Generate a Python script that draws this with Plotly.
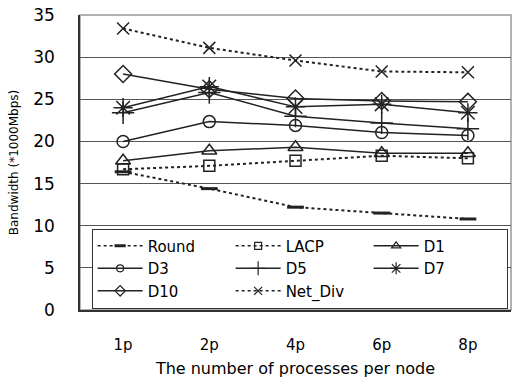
import plotly.graph_objects as go

categories = ["1p", "2p", "4p", "6p", "8p"]
round_v = [16.4, 14.4, 12.2, 11.5, 10.8]
lacp_v = [16.7, 17.1, 17.7, 18.3, 18.0]
d1_v = [17.7, 18.9, 19.3, 18.6, 18.6]
d3_v = [20.0, 22.35, 21.9, 21.05, 20.7]
d5_v = [23.4, 25.8, 23.0, 22.2, 21.5]
d7_v = [24.0, 26.5, 24.1, 24.4, 23.4]
d10_v = [28.0, 26.2, 25.1, 24.8, 24.7]
netdiv_v = [33.4, 31.1, 29.6, 28.3, 28.2]

FONT = "DejaVu Sans"
C = "#222222"

series = [
    ("Round", round_v, "dot", "line-ew-open", 12, 3, 8),
    ("LACP", lacp_v, "dot", "square-open", 11, 1.5, 7),
    ("D1", d1_v, "solid", "triangle-up-open", 13, 1.5, 8),
    ("D3", d3_v, "solid", "circle-open", 12, 1.5, 7),
    ("D5", d5_v, "solid", "cross-thin-open", 16, 1.5, 10),
    ("D7", d7_v, "solid", "asterisk-open", 16, 1.5, 10),
    ("D10", d10_v, "solid", "diamond-open", 13, 1.5, 8),
    ("Net_Div", netdiv_v, "dot", "x-thin-open", 12, 1.5, 8),
]

fig = go.Figure()
for name, vals, dash, sym, size, mlw, lsize in series:
    lw = 1.5 if dash == "solid" else 2
    fig.add_trace(go.Scatter(
        x=categories, y=vals, name=name, mode="lines+markers", showlegend=False,
        line=dict(color=C, width=lw, dash=dash),
        marker=dict(symbol=sym, size=size, color=C, line=dict(color=C, width=mlw)),
    ))
for name, vals, dash, sym, size, mlw, lsize in series:
    lw = 1.5 if dash == "solid" else 2
    fig.add_trace(go.Scatter(
        x=[None], y=[None], name=name, mode="lines+markers", showlegend=True,
        line=dict(color=C, width=lw if dash == "solid" else 1.5, dash=dash),
        marker=dict(symbol=sym, size=lsize, color=C, line=dict(color=C, width=mlw if mlw > 2 else 1.2)),
    ))

fig.update_layout(
    width=512, height=378,
    margin=dict(l=80, r=1, t=15, b=66),
    paper_bgcolor="white", plot_bgcolor="white",
    font=dict(family=FONT, color="black", size=14),
    showlegend=True,
    legend=dict(
        orientation="h", x=0.027, y=0.276, xanchor="left", yanchor="top",
        entrywidth=78, entrywidthmode="pixels",
        bgcolor="white", bordercolor="#333", borderwidth=1,
        font=dict(family=FONT, size=15, color="black"),
        itemwidth=45, tracegroupgap=0,
    ),
    xaxis=dict(
        type="category", range=[-0.5, 4.5], showgrid=False,
        showline=True, linecolor="#333", linewidth=1.5, ticks="",
        tickfont=dict(size=15), ticklabelstandoff=20,
        title=dict(text="The number of processes per node", font=dict(size=16), standoff=12),
    ),
    yaxis=dict(
        range=[0, 35], dtick=5, showgrid=True, gridcolor="#555", gridwidth=1,
        showline=True, linecolor="#333", linewidth=1.5, ticks="",
        tickfont=dict(size=17), ticklabelstandoff=20, zeroline=False,
        title=dict(text="Bandwidth (*1000Mbps)", font=dict(size=12), standoff=12),
    ),
    shapes=[dict(type="rect", xref="paper", yref="paper", x0=0, x1=1, y0=0, y1=1,
                 line=dict(color="#999", width=1.5), layer="below")],
)

fig.write_html("out.html")
